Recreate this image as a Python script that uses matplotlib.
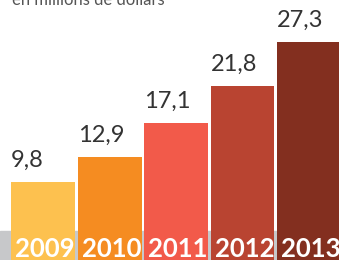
import matplotlib
matplotlib.use("Agg")
import matplotlib.pyplot as plt

years = ["2009", "2010", "2011", "2012", "2013"]
values = [9.8, 12.9, 17.1, 21.8, 27.3]
labels = ["9,8", "12,9", "17,1", "21,8", "27,3"]
colors = ["#FDC14F", "#F58C21", "#F25A4A", "#B94431", "#832F1F"]

W, H = 339, 260
fig = plt.figure(figsize=(W / 100, H / 100), dpi=100)
ax = fig.add_axes([0, 0, 1, 1])
ax.set_xlim(-0.647, 4.451)
ax.set_ylim(0, 32.5)
ax.axis("off")

ax.axhspan(0, 3.6, color="#C7C8CA", zorder=0)
xs = list(range(len(values)))
width = 0.962
ax.bar(xs, values, width=width, color=colors, zorder=1)

for x, v, lab, yr in zip(xs, values, labels, years):
    ax.text(x - width / 2, v + 1.9, lab, ha="left", va="baseline",
            fontsize=17, family="Lato", color="#333333", zorder=3)
    ax.text(x + 0.03, 0.35, yr, ha="center", va="baseline",
            fontsize=18.5, family="Lato", fontweight="bold", color="white", zorder=3)

fig.text(12 / W, 1 - 5 / H, "en millions de dollars", ha="left", va="baseline",
         fontsize=12, family="Lato", color="#555555")

fig.savefig("out.png", dpi=100)
